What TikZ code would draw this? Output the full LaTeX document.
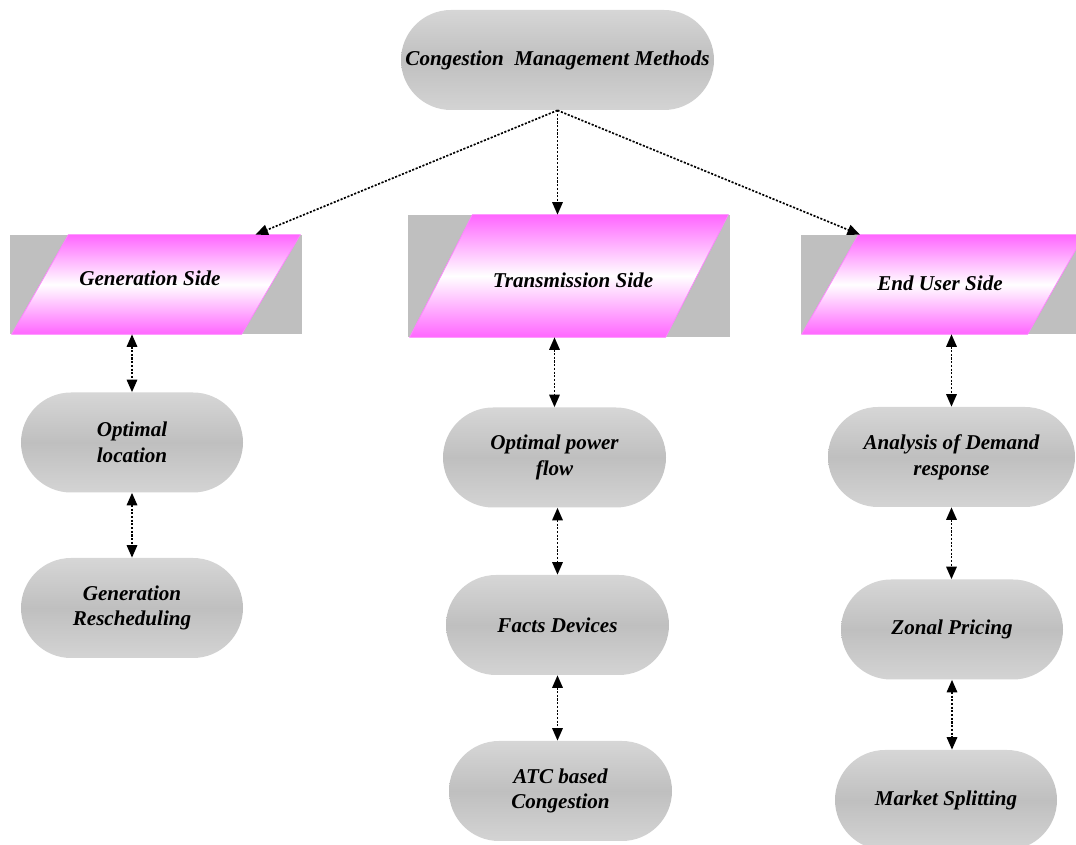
\documentclass[tikz,border=0pt]{standalone}
\usepackage{fontspec}
\setmainfont{Liberation Serif}
\usepackage{tikz}
\usetikzlibrary{positioning,arrows.meta,calc}
\definecolor{boxgray}{RGB}{191,191,191}
\definecolor{sidepink}{RGB}{255,102,255}
\definecolor{sideedge}{RGB}{255,130,255}
\tikzset{
    label font/.style={font=\fontsize{12}{14.7}\selectfont\bfseries\itshape},
    method/.style={rectangle, rounded corners=1cm, minimum height=2cm, minimum width=4.44cm, inner sep=0pt, top color=black!16, bottom color=black!17, middle color=black!25, label font, align=center},
    side back/.style={rectangle, fill=boxgray, inner sep=0pt},
    side band/.style={top color=sidepink, bottom color=sidepink, middle color=white, draw=sideedge, line width=0.4pt},
    link arrow/.style={-{Triangle[length=2.5mm,width=2.1mm]}, line width=0.95pt, dash pattern=on 1.2pt off 0.9pt},
    both arrow/.style={link arrow, {Triangle[length=2.5mm,width=2.1mm]}-{Triangle[length=2.5mm,width=2.1mm]}}
}

\begin{document}
\begin{tikzpicture}
\useasboundingbox (0,0) rectangle (21.52,-16.9);
\clip (0,0) rectangle (21.52,-16.9);

% top
\node[method, minimum width=6.26cm] (cmm) at (11.15,-1.2) {Congestion\ \ Management Methods};

% the three sides
\node[side back, minimum width=5.84cm, minimum height=1.98cm] (genbox) at (3.12,-5.69) {};
\node[side back, minimum width=6.44cm, minimum height=2.44cm] (transbox) at (11.38,-5.52) {};
\node[side back, minimum width=5.5cm, minimum height=1.98cm] (endbox) at (18.77,-5.69) {};

\shadedraw[side band] ($(genbox.south west)+(0.04,0)$) -- ++(4.6,0) -- ($(genbox.north east)+(-0.04,0)$) -- ++(-4.64,0) -- cycle;
\shadedraw[side band] ($(transbox.south west)+(0.04,0)$) -- ++(5.12,0) -- ($(transbox.north east)+(-0.04,0)$) -- ++(-5.12,0) -- cycle;
\shadedraw[side band] ($(endbox.south west)+(0.02,0)$) -- ++(4.52,0) -- ($(endbox.north east)+(0.16,0)$) -- ++(-4.52,0) -- cycle;

\node[label font] (gen) at (3.0,-5.57) {Generation Side};
\node[label font] (trans) at (11.46,-5.6) {Transmission Side};
\node[label font] (enduser) at (18.8,-5.66) {End User Side};

% methods
\node[method] (optloc) at (2.64,-8.85) {Optimal\\location};
\node[method] (genres) at (2.64,-12.16) {Generation\\Rescheduling};
\node[method, minimum width=4.46cm] (opf) at (11.09,-9.15) {Optimal power\\flow};
\node[method, minimum width=4.46cm] (facts) at (11.15,-12.5) {Facts Devices};
\node[method, minimum width=4.46cm] (atc) at (11.21,-15.82) {ATC based\\Congestion};
\node[method, minimum width=4.94cm] (demand) at (19.03,-9.14) {Analysis of Demand\\response};
\node[method] (zonal) at (19.04,-12.59) {Zonal Pricing};
\node[method] (market) at (18.92,-16.0) {Market Splitting};

\draw[link arrow] (cmm.south) -- ($(genbox.north)!0.68!(genbox.north east)$);
\draw[link arrow] (cmm.south) -- (cmm.south |- transbox.north);
\draw[link arrow] (cmm.south) -- ($(endbox.north west)!0.43!(endbox.north)$);

\draw[both arrow] (optloc.north |- genbox.south) -- (optloc.north);
\draw[both arrow] (optloc.south) -- (genres.north);
\draw[both arrow] (opf.north |- transbox.south) -- (opf.north);
\draw[both arrow] (facts.north |- opf.south) -- (facts.north);
\draw[both arrow] (facts.south) -- (facts.south |- atc.north);
\draw[both arrow] (demand.north |- endbox.south) -- (demand.north);
\draw[both arrow] (demand.south) -- (demand.south |- zonal.north);
\draw[both arrow] (zonal.south) -- (zonal.south |- market.north);
\end{tikzpicture}
\end{document}
